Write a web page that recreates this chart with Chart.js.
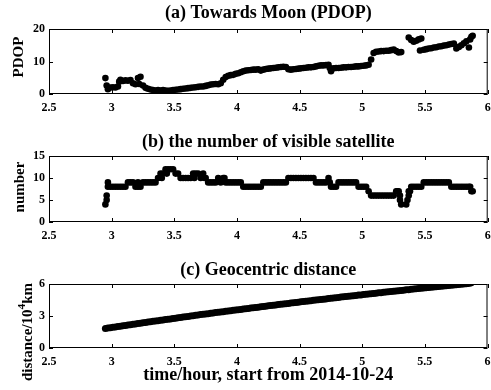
<!DOCTYPE html>
<html>
<head>
<meta charset="utf-8">
<script src="https://cdn.jsdelivr.net/npm/chart.js@4.4.0/dist/chart.umd.min.js"></script>
<style>
  html, body { margin: 0; padding: 0; background: #fff; overflow: hidden; }
  #wrap { position: relative; width: 491px; height: 390px; }
  canvas { position: absolute; left: 0; }
</style>
</head>
<body>
<div id="wrap">
  <canvas id="pdopChart" width="491" height="120" style="top:0px"></canvas>
  <canvas id="satChart" width="491" height="130" style="top:118px"></canvas>
  <canvas id="distChart" width="491" height="142" style="top:248px"></canvas>
</div>
<script>
'use strict';

// sample times, hours from the start of 2014-10-24
var hours = [
  2.95, 2.97, 2.99, 3.01, 3.03, 3.05, 3.07, 3.09, 3.11, 3.13,
  3.15, 3.17, 3.19, 3.21, 3.23, 3.25, 3.27, 3.29, 3.31, 3.33,
  3.35, 3.37, 3.39, 3.41, 3.43, 3.45, 3.47, 3.49, 3.51, 3.53,
  3.55, 3.57, 3.59, 3.61, 3.63, 3.65, 3.67, 3.69, 3.71, 3.73,
  3.75, 3.77, 3.79, 3.81, 3.83, 3.85, 3.87, 3.89, 3.91, 3.93,
  3.95, 3.97, 3.99, 4.01, 4.03, 4.05, 4.07, 4.09, 4.11, 4.13,
  4.15, 4.17, 4.19, 4.21, 4.23, 4.25, 4.27, 4.29, 4.31, 4.33,
  4.35, 4.37, 4.39, 4.41, 4.43, 4.45, 4.47, 4.49, 4.51, 4.53,
  4.55, 4.57, 4.59, 4.61, 4.63, 4.65, 4.67, 4.69, 4.71, 4.73,
  4.75, 4.77, 4.79, 4.81, 4.83, 4.85, 4.87, 4.89, 4.91, 4.93,
  4.95, 4.97, 4.99, 5.01, 5.03, 5.05, 5.07, 5.09, 5.11, 5.13,
  5.15, 5.17, 5.19, 5.21, 5.23, 5.25, 5.27, 5.29, 5.31, 5.33,
  5.35, 5.37, 5.39, 5.41, 5.43, 5.45, 5.47, 5.49, 5.51, 5.53,
  5.55, 5.57, 5.59, 5.61, 5.63, 5.65, 5.67, 5.69, 5.71, 5.73,
  5.75, 5.77, 5.79, 5.81, 5.83, 5.85, 5.87
];

// PDOP towards the Moon (null = no solution)
var pdop = [
  4.9, 1.5, 2.0, 2.1, 2.0, 2.3, 4.4, 4.0, 4.2, 4.1,
  4.3, 3.3, 3.0, 4.9, 5.3, 2.6, 1.9, 1.6, 1.4, 1.2,
  1.1, 1.2, 1.1, 1.2, 1.1, 1.0, 1.1, 1.2, 1.3, 1.4,
  1.5, 1.6, 1.7, 1.8, 1.9, 2.0, 2.1, 2.2, 2.3, 2.3,
  2.5, 2.7, 2.9, 3.0, 3.1, 3.0, 3.3, 4.4, 5.2, 5.6,
  5.8, 5.9, 6.2, 6.4, 6.7, 7.0, 7.2, 7.3, 7.4, 7.5,
  7.5, 7.6, 7.2, 7.5, 7.7, 7.8, 7.9, 8.0, 8.1, 8.2,
  8.3, 8.4, 8.3, 7.6, 7.5, 7.6, 7.7, 7.8, 7.9, 8.0,
  8.1, 8.2, 8.2, 8.3, 8.5, 8.7, 8.8, 8.8, 8.9, 9.0,
  7.0, 7.9, 8.0, 8.0, 8.1, 8.2, 8.2, 8.3, 8.3, 8.4,
  8.5, 8.5, 8.6, 8.7, 8.8, 9.0, 10.6, 12.6, 13.0, 13.1,
  13.2, 13.2, 13.3, 13.3, 13.5, 13.7, 13.2, 12.8, 12.9, null,
  null, 17.4, 16.6, 16.1, 16.4, 16.8, 17.1, 13.6, 13.8, 14.0,
  14.1, 14.3, 14.4, 14.6, 14.7, 14.9, 15.0, 15.2, 15.4, 15.5,
  14.0, 14.5, 15.0, 15.6, 16.2, 14.3, 17.6
];
// extra PDOP samples falling between the regular times
var pdopExtraHours = [2.96, 3.06, 3.22, 4.74, 5.46, 5.86, 5.88];
var pdopExtra = [2.6, 3.8, 3.1, 8.0, 13.4, 16.8, 17.9];

// number of visible satellites
var visibleSats = [
  4, 8, 8, 8, 8, 8, 8, 8, 8, 9,
  9, 9, 8, 8, 8, 9, 9, 9, 9, 9,
  9, 10, 11, 11, 12, 12, 12, 12, 11, 11,
  10, 10, 10, 10, 10, 11, 11, 11, 10, 11,
  10, 9, 9, 9, 9, 10, 9, 10, 9, 9,
  9, 9, 9, 9, 9, 8, 8, 8, 8, 8,
  8, 8, 8, 9, 9, 9, 9, 9, 9, 9,
  9, 9, 9, 10, 10, 10, 10, 10, 10, 10,
  10, 10, 10, 10, 9, 9, 9, 9, 9, 10,
  8, 8, 8, 9, 9, 9, 9, 9, 9, 9,
  9, 8, 8, 8, 8, 7, 6, 6, 6, 6,
  6, 6, 6, 6, 6, 6, 7, 7, 4, null,
  4, 6, 8, 8, 8, 8, 8, 9, 9, 9,
  9, 9, 9, 9, 9, 9, 9, 9, 8, 8,
  8, 8, 8, 8, 8, 8, 7
];
var satExtraHours = [2.96, 2.96, 2.97, 3.21, 3.40, 3.44, 3.66, 3.74, 3.90,
  4.74, 5.28, 5.30, 5.30, 5.36, 5.37, 5.38, 5.86, 5.88];
var satExtra = [5, 6, 9, 9, 10, 11, 10, 10, 10, 9, 7, 6, 5, 5, 7, 7, 8, 7];

// geocentric distance, 10^4 km
var distance = [
  1.83, 1.87, 1.90, 1.94, 1.97, 2.01, 2.04, 2.08, 2.11, 2.15,
  2.18, 2.22, 2.25, 2.29, 2.32, 2.36, 2.39, 2.43, 2.46, 2.50,
  2.53, 2.56, 2.60, 2.63, 2.67, 2.70, 2.73, 2.77, 2.80, 2.83,
  2.87, 2.90, 2.93, 2.96, 3.00, 3.03, 3.06, 3.09, 3.13, 3.16,
  3.19, 3.22, 3.25, 3.29, 3.32, 3.35, 3.38, 3.41, 3.44, 3.47,
  3.50, 3.53, 3.56, 3.59, 3.62, 3.65, 3.68, 3.71, 3.74, 3.77,
  3.80, 3.83, 3.86, 3.89, 3.92, 3.95, 3.98, 4.01, 4.04, 4.07,
  4.10, 4.13, 4.16, 4.18, 4.21, 4.24, 4.27, 4.30, 4.33, 4.35,
  4.38, 4.41, 4.44, 4.47, 4.49, 4.52, 4.55, 4.58, 4.60, 4.63,
  4.66, 4.69, 4.71, 4.74, 4.77, 4.80, 4.82, 4.85, 4.88, 4.90,
  4.93, 4.96, 4.98, 5.01, 5.04, 5.06, 5.09, 5.12, 5.14, 5.17,
  5.19, 5.22, 5.25, 5.27, 5.30, 5.32, 5.35, 5.37, 5.40, 5.42,
  5.45, 5.47, 5.50, 5.52, 5.55, 5.57, 5.60, 5.62, 5.65, 5.67,
  5.70, 5.72, 5.74, 5.77, 5.79, 5.82, 5.84, 5.86, 5.89, 5.91,
  5.93, 5.96, 5.98, 6.00, 6.03, 6.05, 6.10
];

// axis ticks
var xTickValues = [2.5, 3, 3.5, 4, 4.5, 5, 5.5, 6];
var pdopTicks = [0, 10, 20];
var satTicks = [0, 5, 10, 15];
var distTicks = [0, 3, 6];

var FONT = '"Liberation Serif", "Times New Roman", serif';
Chart.defaults.font.family = FONT;
Chart.defaults.font.weight = 'bold';
Chart.defaults.color = '#000';

function points(xs, ys) {
  var out = [];
  for (var i = 0; i < xs.length; i++) {
    if (ys[i] !== null) out.push({ x: xs[i], y: ys[i] });
  }
  return out;
}

// plain number labels: 3 rather than 3.0
function plainLabel(v) {
  return String(v);
}

// box round the plot area with ticks pointing inwards on all four sides
var frame = {
  id: 'frame',
  afterDatasetsDraw: function (chart) {
    var a = chart.chartArea, ctx = chart.ctx;
    var xs = chart.scales.x, ys = chart.scales.y;
    var len = 4;
    ctx.save();
    ctx.strokeStyle = '#000';
    ctx.lineWidth = 1;
    ctx.beginPath();
    xs.ticks.forEach(function (t) {
      var px = Math.round(xs.getPixelForValue(t.value)) + 0.5;
      ctx.moveTo(px, a.bottom); ctx.lineTo(px, a.bottom - len);
      ctx.moveTo(px, a.top); ctx.lineTo(px, a.top + len);
    });
    ys.ticks.forEach(function (t) {
      var py = Math.round(ys.getPixelForValue(t.value)) + 0.5;
      ctx.moveTo(a.left, py); ctx.lineTo(a.left + len, py);
      ctx.moveTo(a.right, py); ctx.lineTo(a.right - len, py);
    });
    ctx.stroke();
    ctx.strokeRect(a.left + 0.5, a.top + 0.5, a.right - a.left - 1, a.bottom - a.top - 1);
    ctx.restore();
  }
};

// rotated y axis label, parts may be raised as superscript
var axisLabel = {
  id: 'axisLabel',
  afterDraw: function (chart, args, opts) {
    if (!opts.parts) return;
    var ctx = chart.ctx;
    var size = opts.size;
    ctx.save();
    ctx.translate(opts.x, opts.y);
    ctx.rotate(-Math.PI / 2);
    ctx.fillStyle = '#000';
    ctx.textBaseline = 'middle';
    ctx.textAlign = 'left';
    var total = 0;
    var widths = opts.parts.map(function (p) {
      ctx.font = 'bold ' + (p.sup ? size * 0.75 : size) + 'px ' + FONT;
      var w = ctx.measureText(p.text).width;
      total += w;
      return w;
    });
    var pos = -total / 2;
    opts.parts.forEach(function (p, i) {
      ctx.font = 'bold ' + (p.sup ? size * 0.75 : size) + 'px ' + FONT;
      ctx.fillText(p.text, pos, p.sup ? -size * 0.4 : 0);
      pos += widths[i];
    });
    ctx.restore();
  }
};

function makeChart(id, cfg) {
  return new Chart(document.getElementById(id), {
    type: 'scatter',
    data: {
      datasets: [{
        data: cfg.data,
        backgroundColor: '#000',
        borderWidth: 0,
        pointRadius: cfg.radius,
        pointHoverRadius: cfg.radius
      }]
    },
    options: {
      animation: false,
      responsive: false,
      devicePixelRatio: 1,
      events: [],
      layout: { padding: { left: 0, right: 0, top: 0, bottom: 0 } },
      plugins: {
        legend: { display: false },
        tooltip: { enabled: false },
        title: {
          display: true,
          text: cfg.title,
          fullSize: false,
          color: '#000',
          font: { size: 18, weight: 'bold' },
          padding: cfg.titlePad
        },
        axisLabel: cfg.yLabel
      },
      scales: {
        x: {
          type: 'linear',
          min: 2.5,
          max: 6,
          grid: { display: false, drawTicks: false },
          border: { display: false },
          ticks: {
            color: '#000', font: { size: 12, weight: 'bold' }, padding: 7,
            autoSkip: false, maxRotation: 0, callback: plainLabel
          },
          afterBuildTicks: function (s) {
            s.ticks = xTickValues.map(function (v) { return { value: v }; });
          },
          afterFit: function (s) {
            s.height = cfg.xHeight;
            s.paddingLeft = 0;
            s.paddingRight = 0;
          },
          title: cfg.xTitle || { display: false }
        },
        y: {
          type: 'linear',
          min: cfg.yTicks[0],
          max: cfg.yTicks[cfg.yTicks.length - 1],
          grid: { display: false, drawTicks: false },
          border: { display: false },
          ticks: { color: '#000', font: { size: 12, weight: 'bold' }, padding: 4, callback: plainLabel },
          afterBuildTicks: function (s) {
            s.ticks = cfg.yTicks.map(function (v) { return { value: v }; });
          },
          afterFit: function (s) { s.width = 49; }
        }
      }
    },
    plugins: [frame, axisLabel]
  });
}

makeChart('pdopChart', {
  title: '(a) Towards Moon (PDOP)',
  titlePad: { top: 3, bottom: 4.4 },
  data: points(hours, pdop).concat(points(pdopExtraHours, pdopExtra)),
  radius: 3.3,
  yTicks: pdopTicks,
  xHeight: 26,
  yLabel: { x: 19, y: 57, size: 15, parts: [{ text: 'PDOP' }] }
});

makeChart('satChart', {
  title: '(b) the number of visible satellite',
  titlePad: { top: 13.2, bottom: 3.2 },
  data: points(hours, visibleSats).concat(points(satExtraHours, satExtra)),
  radius: 3.3,
  yTicks: satTicks,
  xHeight: 26,
  yLabel: { x: 20, y: 69, size: 15, parts: [{ text: 'number' }] }
});

makeChart('distChart', {
  title: '(c) Geocentric distance',
  titlePad: { top: 11.2, bottom: 3.2 },
  data: points(hours, distance),
  radius: 3.5,
  yTicks: distTicks,
  xHeight: 42,
  xTitle: {
    display: true,
    text: 'time/hour, start from 2014-10-24',
    color: '#000',
    font: { size: 18, weight: 'bold' },
    padding: { top: 0, bottom: 4.2 }
  },
  yLabel: {
    x: 28, y: 84, size: 15,
    parts: [{ text: 'distance/10' }, { text: '4', sup: true }, { text: 'km' }]
  }
});
</script>
</body>
</html>
